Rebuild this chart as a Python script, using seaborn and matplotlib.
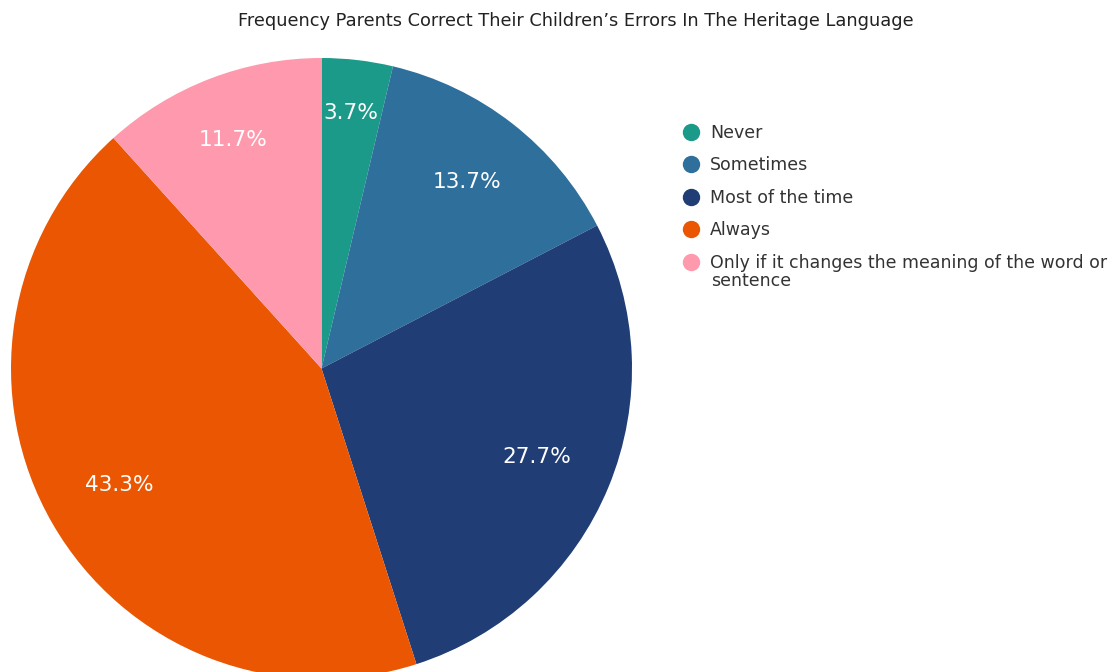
import matplotlib
matplotlib.use("Agg")
import matplotlib.pyplot as plt
from matplotlib.lines import Line2D
import numpy as np
import seaborn as sns

# Survey responses (share of parents, %)
categories = ["Never", "Sometimes", "Most of the time", "Always",
              "Only if it changes the meaning of the word or"]
last_label_tail = "sentence"
shares = [3.7, 13.7, 27.7, 43.3, 11.7]
colors = ["#1c9a89", "#2e6f9b", "#203d76", "#ea5602", "#ff99ad"]
title = "Frequency Parents Correct Their Children\u2019s Errors In The Heritage Language"

sns.set_theme(style="white")
plt.rcParams["font.family"] = ["DejaVu Sans"]

W, H = 1119, 672
fig = plt.figure(figsize=(W / 100, H / 100), dpi=100)

# square axes holding the pie (radius 1 fills the axes)
cx, cy, r = 321.5, 368.5, 310.5
ax = fig.add_axes([(cx - r) / W, (H - cy - r) / H, 2 * r / W, 2 * r / H])
wedges, _ = ax.pie(shares, colors=colors, startangle=90, counterclock=False,
                   radius=1.0, wedgeprops=dict(linewidth=0))
ax.set_xlim(-1, 1)
ax.set_ylim(-1, 1)
ax.set_aspect("equal")
ax.axis("off")

# percentage labels inside each slice
label_r = [0.83, 0.76, 0.75, 0.75, 0.79]
for w, val, lr in zip(wedges, shares, label_r):
    ang = np.deg2rad((w.theta1 + w.theta2) / 2)
    ax.text(lr * np.cos(ang), lr * np.sin(ang), f"{val:.1f}%",
            ha="center", va="center", color="white", fontsize=15.6)

fig.text(575.5 / W, 1 - 21 / H, title, ha="center", va="center",
         fontsize=12.8, color="#222222")

handles = [Line2D([], [], marker="o", linestyle="", markersize=11.5,
                  markerfacecolor=c, markeredgecolor=c) for c in colors]
leg = fig.legend(handles, categories, loc="upper left",
                 bbox_to_anchor=(682 / W, 1 - 124 / H), frameon=False,
                 fontsize=12.5, handlelength=1.0, handletextpad=0.6,
                 borderpad=0, borderaxespad=0, labelspacing=0.83)
for t in leg.get_texts():
    t.set_color("#333333")

# wrapped continuation of the last legend entry
fig.text(711 / W, 1 - 281 / H, last_label_tail, ha="left", va="center",
         fontsize=12.5, color="#333333")

fig.savefig("out.png", dpi=100)
